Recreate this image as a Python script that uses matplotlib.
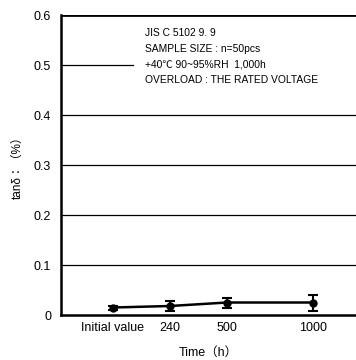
import matplotlib.pyplot as plt

plt.rcParams['font.family'] = ['Liberation Sans', 'Noto Sans CJK JP', 'DejaVu Sans']

# data
time_labels = ['Initial value', '240', '500', '1000']
x_pos = [0, 1, 2, 3.5]
tan_delta = [0.015, 0.018, 0.025, 0.025]
err = [0.004, 0.010, 0.010, 0.016]
y_ticks = [0, 0.1, 0.2, 0.3, 0.4, 0.5, 0.6]
y_ticklabels = ['0', '0.1', '0.2', '0.3', '0.4', '0.5', '0.6']
note_lines = ['JIS C 5102 9. 9',
              'SAMPLE SIZE : n=50pcs',
              '+40℃ 90~95%RH  1,000h',
              'OVERLOAD : THE RATED VOLTAGE']

fig = plt.figure(figsize=(3.56, 3.6), dpi=100)
ax = fig.add_axes([0.171, 0.125, 0.829, 0.833])

# gridlines (0.5 line stops before the note text)
for yv in y_ticks[1:-1]:
    if yv == 0.5:
        ax.axhline(yv, xmin=0, xmax=0.245, color='black', lw=0.9)
    else:
        ax.axhline(yv, color='black', lw=0.9)
ax.axhline(0.6, color='black', lw=2.0)

ax.errorbar(x_pos, tan_delta, yerr=err, color='black', lw=1.8, marker='o',
            ms=5, capsize=3.5, capthick=1.5, elinewidth=1.5)

ax.set_xlim(-0.91, 4.26)
ax.set_ylim(0, 0.6)
ax.set_xticks(x_pos)
ax.set_xticklabels(time_labels)
ax.set_yticks(y_ticks)
ax.set_yticklabels(y_ticklabels)
ax.tick_params(length=0, labelsize=9, pad=7)
ax.tick_params(axis='x', pad=5)

ax.spines['right'].set_visible(False)
ax.spines['top'].set_visible(False)
ax.spines['left'].set_linewidth(1.8)
ax.spines['bottom'].set_linewidth(1.8)

ax.set_xlabel('Time（h）', fontsize=9, labelpad=9)
ax.set_ylabel('tanδ：（%）', fontsize=8.5, labelpad=7)

for i, line in enumerate(note_lines):
    ax.text(0.285, 0.94 - i * 0.052, line, transform=ax.transAxes,
            fontsize=7.4, va='center', ha='left')

fig.savefig('out.png', dpi=100)
